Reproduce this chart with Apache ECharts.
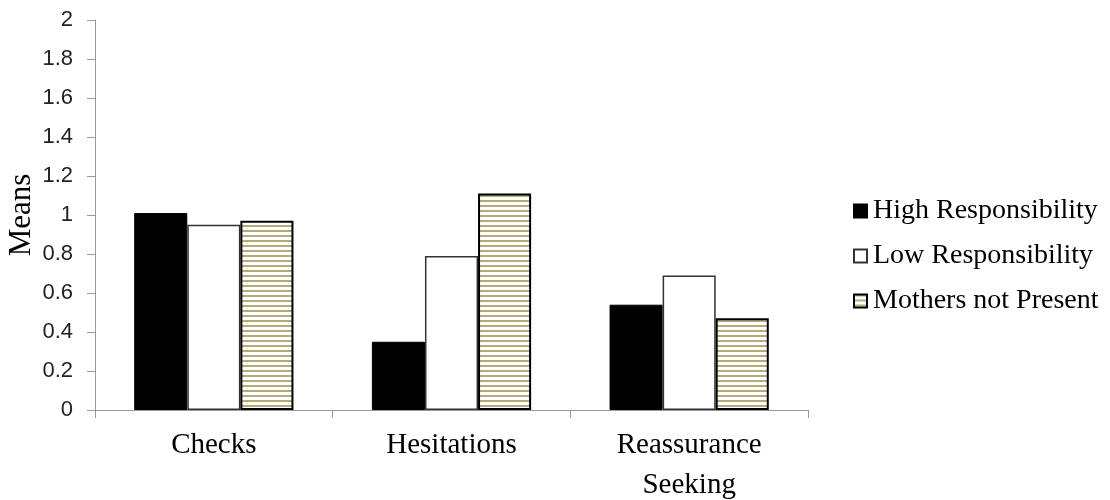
<!DOCTYPE html>
<html>
<head>
<meta charset="utf-8">
<script src="https://cdn.jsdelivr.net/npm/echarts@6/dist/echarts.min.js"></script>
<style>
html,body{margin:0;padding:0;background:#fff;}
#chart{width:1110px;height:500px;}
</style>
</head>
<body>
<div id="chart"></div>
<script>
var categories = ['Checks', 'Hesitations', 'Reassurance\nSeeking'];
var highResp = [1.01, 0.35, 0.54];
var lowResp = [0.95, 0.79, 0.69];
var mothersNotPresent = [0.97, 1.11, 0.47];
var seriesNames = ['High Responsibility', 'Low Responsibility', 'Mothers not Present'];

var pc = document.createElement('canvas');
pc.width = 8; pc.height = 5;
var ctx = pc.getContext('2d');
ctx.fillStyle = '#ffffff';
ctx.fillRect(0, 0, 8, 5);
ctx.fillStyle = '#b5aa7c';
ctx.fillRect(0, 0, 8, 2);

var chart = echarts.init(document.getElementById('chart'), null, {renderer: 'canvas'});
var serif = 'Liberation Serif, Times New Roman, serif';
chart.setOption({
  animation: false,
  backgroundColor: '#ffffff',
  grid: {left: 95, right: 302, top: 20, bottom: 90, containLabel: false, outerBoundsMode: 'none'},
  legend: {
    orient: 'vertical',
    left: 848,
    top: 192,
    itemWidth: 13,
    itemHeight: 13,
    itemGap: 17,
    icon: 'rect',
    textStyle: {fontFamily: serif, fontSize: 28, color: '#000', padding: [0, 0, 0, 1]},
    data: seriesNames
  },
  xAxis: {
    type: 'category',
    data: categories,
    axisLine: {show: true, lineStyle: {color: '#999', width: 1}},
    axisTick: {show: true, length: 8, lineStyle: {color: '#999'}},
    axisLabel: {fontFamily: serif, fontSize: 29, color: '#000', margin: 15, lineHeight: 40}
  },
  yAxis: {
    type: 'value',
    min: 0, max: 2, interval: 0.2,
    name: 'Means',
    nameLocation: 'middle',
    nameGap: 73,
    nameMoveOverlap: false,
    nameRotate: 90,
    nameTextStyle: {fontFamily: serif, fontSize: 31, color: '#000', verticalAlign: 'middle', align: 'center'},
    axisLine: {show: true, lineStyle: {color: '#999', width: 1}},
    axisTick: {show: true, length: 8, lineStyle: {color: '#999'}},
    splitLine: {show: false},
    axisLabel: {fontFamily: 'Liberation Sans, Arial, sans-serif', fontSize: 22, color: '#222', margin: 22,
      formatter: function (v) { return String(Math.round(v * 10) / 10); }}
  },
  series: [
    {name: seriesNames[0], type: 'bar', data: highResp, barGap: '0%', barCategoryGap: '33%',
      itemStyle: {color: '#000', borderColor: '#000', borderWidth: 1}},
    {name: seriesNames[1], type: 'bar', data: lowResp, barGap: '0%', barCategoryGap: '33%',
      itemStyle: {color: '#fff', borderColor: '#333', borderWidth: 1.5}},
    {name: seriesNames[2], type: 'bar', data: mothersNotPresent, barGap: '0%', barCategoryGap: '33%',
      itemStyle: {color: {image: pc, repeat: 'repeat'}, borderColor: '#000', borderWidth: 2}}
  ]
});
</script>
</body>
</html>
